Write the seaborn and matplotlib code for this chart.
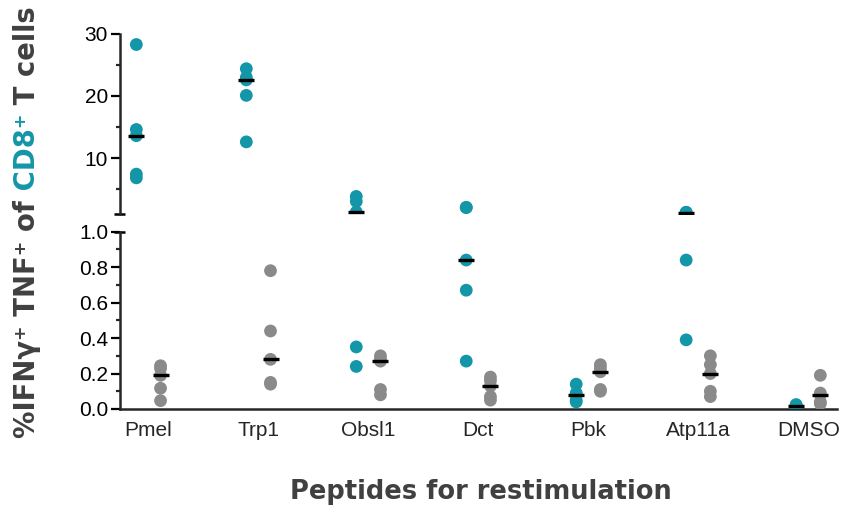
import matplotlib
matplotlib.use("Agg")
import matplotlib.pyplot as plt
import numpy as np
import pandas as pd
import seaborn as sns

# values (five mice per peptide)
peptides = ["Pmel", "Trp1", "Obsl1", "Dct", "Pbk", "Atp11a", "DMSO"]
groups = ["CD8+", "CD4+"]

cd8_values = [
    [28.3, 14.6, 13.6, 7.4, 6.8],
    [24.4, 23.0, 22.6, 20.1, 12.6],
    [3.8, 3.0, 1.3, 0.35, 0.24],
    [2.05, 2.0, 0.84, 0.67, 0.27],
    [0.14, 0.09, 0.08, 0.05, 0.04],
    [1.25, 1.2, 1.2, 0.84, 0.39],
    [0.025, 0.02, 0.015, 0.01, 0.005],
]
cd4_values = [
    [0.244, 0.229, 0.19, 0.117, 0.047],
    [0.78, 0.44, 0.28, 0.15, 0.14],
    [0.30, 0.28, 0.27, 0.11, 0.08],
    [0.18, 0.16, 0.13, 0.07, 0.05],
    [0.25, 0.23, 0.21, 0.11, 0.10],
    [0.30, 0.25, 0.20, 0.10, 0.07],
    [0.19, 0.09, 0.08, 0.04, 0.03],
]

teal = "#1396A8"
grey = "#8A8A8A"
label_grey = "#404040"

# side-by-side offset of the two groups within a peptide
offsets = {"CD8+": -0.11, "CD4+": 0.11}

rows = []
for i, (pep, a, b) in enumerate(zip(peptides, cd8_values, cd4_values)):
    rows += [(pep, "CD8+", i + offsets["CD8+"], v) for v in a]
    rows += [(pep, "CD4+", i + offsets["CD4+"], v) for v in b]
df = pd.DataFrame(rows, columns=["peptide", "cells", "xpos", "pct"])
medians = df.groupby(["cells", "xpos"], as_index=False)["pct"].median()

sns.set_style("ticks")
plt.rcParams["font.family"] = ["Liberation Sans", "DejaVu Sans"]

fig = plt.figure(figsize=(8.44, 5.05), dpi=100)
ax_top = fig.add_axes([0.142, 0.5766, 0.8495, 0.3561])
ax_bot = fig.add_axes([0.142, 0.1901, 0.8495, 0.3511])

top_lo, top_hi = 1, 30
palette = {"CD8+": teal, "CD4+": grey}

segments = [
    (ax_top, df[df.pct >= top_lo], medians[medians.pct >= top_lo]),
    (ax_bot, df[df.pct <= 1.0], medians[medians.pct <= 1.0]),
]
for ax, sub, med in segments:
    sns.stripplot(data=sub, x="xpos", y="pct", hue="cells", hue_order=groups,
                  palette=palette, native_scale=True, jitter=False, size=9.2,
                  linewidth=0, legend=False, ax=ax)
    # median bars, on top of the dots
    sns.scatterplot(data=med, x="xpos", y="pct", marker="_", s=140,
                    color="black", linewidth=2.4, legend=False, zorder=5, ax=ax)
    ax.set_xlim(-0.26, len(peptides) - 1 + 0.26)
    ax.set_xlabel("")
    ax.set_ylabel("")
    for s in ["top", "right"]:
        ax.spines[s].set_visible(False)
    ax.spines["left"].set_linewidth(1.8)
    ax.spines["bottom"].set_linewidth(1.8)
    ax.tick_params(axis="y", which="major", length=6.5, width=1.6, labelsize=15,
                   pad=2, colors="black")
    ax.tick_params(axis="y", which="minor", length=3, width=1.6)

# upper segment
ax_top.set_ylim(top_lo, top_hi)
ax_top.set_yticks([10, 20, 30])
ax_top.set_yticks([5, 15, 25], minor=True)
ax_top.spines["bottom"].set_visible(False)
ax_top.tick_params(axis="x", bottom=False, labelbottom=False)

# lower segment
ax_bot.set_ylim(0, 1.0)
ax_bot.set_yticks(np.arange(0, 1.01, 0.2))
ax_bot.set_yticklabels([f"{t:.1f}" for t in np.arange(0, 1.01, 0.2)])
ax_bot.set_yticks(np.arange(0.1, 1.0, 0.2), minor=True)
ax_bot.set_xticks(range(len(peptides)))
ax_bot.set_xticklabels(peptides)
ax_bot.tick_params(axis="x", length=0, labelsize=15, pad=9)

# caps at the axis break
ax_top.plot([-0.008, 0.007], [0, 0], transform=ax_top.transAxes, color="k",
            lw=1.8, clip_on=False, solid_capstyle="butt")
ax_bot.plot([-0.008, 0.007], [1, 1], transform=ax_bot.transAxes, color="k",
            lw=1.8, clip_on=False, solid_capstyle="butt")

fig.text(480.5 / 844, 0.012, "Peptides for restimulation", ha="center",
         va="baseline", fontsize=18.5, fontweight="bold", color=label_grey,
         family="DejaVu Sans")

# y label with CD8+ in teal, built from pieces
parts = [("%IFN\u03b3\u207a TNF\u207a of", label_grey), (" CD8\u207a", teal),
         (" T cells", label_grey)]
fig.canvas.draw()
renderer = fig.canvas.get_renderer()
texts = []
for s, c in parts:
    t = fig.text(0, 0, s, rotation=90, rotation_mode="anchor", ha="left",
                 va="center", fontsize=19.8, fontweight="bold", color=c,
                 family="DejaVu Sans")
    texts.append(t)
lengths = [t.get_window_extent(renderer).height for t in texts]
y_px = 505 - (222 + sum(lengths) / 2)
for t, L in zip(texts, lengths):
    t.set_position((27 / 844, y_px / 505))
    y_px += L

fig.savefig("out.png", dpi=100)
